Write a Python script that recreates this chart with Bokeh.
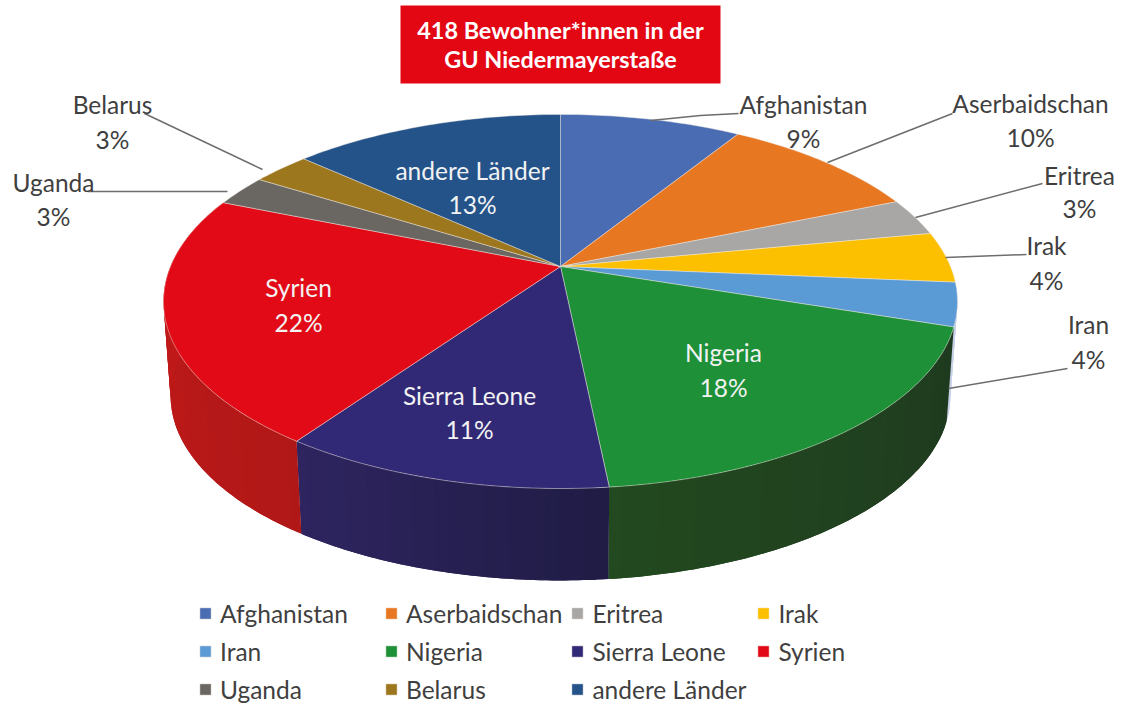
import math
from bokeh.plotting import figure
from bokeh.models import Range1d, Legend, LegendItem
from bokeh.core.properties import value
from bokeh.embed import file_html
from bokeh.resources import INLINE

# ---- data ----
countries = ["Afghanistan", "Aserbaidschan", "Eritrea", "Irak", "Iran", "Nigeria",
             "Sierra Leone", "Syrien", "Uganda", "Belarus", "andere Länder"]
printed_pct = ["9%", "10%", "3%", "4%", "4%", "18%", "11%", "22%", "3%", "3%", "13%"]
# slice sizes as drawn in the picture (percent, read from the slice edges)
drawn_share = [8.85, 9.9, 3.25, 4.4, 3.75, 18.3, 11.35, 21.5, 2.7, 2.85, 13.3]
title_lines = ["418 Bewohner*innen in der", "GU Niedermayerstaße"]

# ---- styles ----
top_colors = ["#4a6cb3", "#e87722", "#a8a7a5", "#fcc000", "#5b9bd5", "#1d9038",
              "#312976", "#e20a16", "#6a6662", "#9c771e", "#24538a"]
wall_from = {4: "#d5dcec", 5: "#1f3a1f", 6: "#201c45", 7: "#b01817"}
wall_to = {4: "#c4cfe6", 5: "#22491f", 6: "#2e2560", 7: "#c81a1a"}
FONT = "Lato"
INK = "#3f3f3f"
FS = "24.5px"

# label layout: centre x, name y, percent y
label_pos = [(803, 103.5, 137.5), (1030, 102.5, 136.5), (1079, 174.5, 207.5), (1046, 244.5, 279.5),
             (1088, 323.5, 358.5), (723, 351.5, 386.5), (469, 394.5, 428.5), (298, 286.5, 321.5),
             (53, 181.5, 215.5), (112, 103.5, 138.5), (472, 169.5, 203.5)]
inside = {5, 6, 7, 10}
leaders = [[(738, 113), (700, 115), (650, 120)], [(952, 113), (827, 162)],
           [(1042, 183), (915, 217)], [(1026, 254), (945, 257)],
           [(1067, 368), (948, 388)], [(87, 191), (227, 191)], [(144, 113), (262, 169)]]

# ---- projection of a tilted disc ----
CX, K = 560.0, 0.187
TOP = dict(a=390.0, b=180.5, y0=266.0)
BOT = dict(a=383.0, b=178.0, y0=361.0)


def ring(theta_deg, r):
    t = math.radians(theta_deg)
    w = 1 + K * math.cos(t)
    return CX + r["a"] * math.sin(t) / w, r["y0"] - r["b"] * math.cos(t) / w


def mix(c1, c2, f):
    a = [int(c1[i:i + 2], 16) for i in (1, 3, 5)]
    b = [int(c2[i:i + 2], 16) for i in (1, 3, 5)]
    return "#%02x%02x%02x" % tuple(round(a[i] + (b[i] - a[i]) * f) for i in range(3))


p = figure(width=1114, height=706, x_range=Range1d(0, 1114), y_range=Range1d(706, 0),
           output_backend="svg", toolbar_location=None, min_border=0,
           outline_line_color=None, background_fill_color="white")
p.xaxis.visible = False
p.yaxis.visible = False
p.grid.visible = False

total = sum(drawn_share)
edges = [0.0]
for s in drawn_share:
    edges.append(edges[-1] + s / total * 360)

# side wall, strip by strip, each strip overlapping the next so no seams show
for i in sorted(wall_from):
    a0, a1 = edges[i], edges[i + 1]
    n = max(4, int((a1 - a0) / 1.5))
    for j in range(n):
        t0 = a0 + (a1 - a0) * j / n
        t1 = a0 + (a1 - a0) * min(j + 2, n) / n
        steps = [t0 + (t1 - t0) * s / 4 for s in range(5)]
        upper = [ring(t, TOP) for t in steps]
        lower = [ring(t, BOT) for t in reversed(steps)]
        q = upper + lower
        c = mix(wall_from[i], wall_to[i], (j + 0.5) / n)
        p.patch([v[0] for v in q], [v[1] for v in q], fill_color=c, line_color=None)

# top faces
wedge_renderers = []
for i, c in enumerate(top_colors):
    a0, a1 = edges[i], edges[i + 1]
    n = max(8, int(a1 - a0))
    pts = [ring(a0 + (a1 - a0) * j / n, TOP) for j in range(n + 1)]
    xs = [CX] + [v[0] for v in pts]
    ys = [TOP["y0"]] + [v[1] for v in pts]
    wedge_renderers.append(p.patch(xs, ys, fill_color=c, line_color="#f3ece6", line_alpha=0.55, line_width=0.8))

# leader lines
for seg in leaders:
    p.line([v[0] for v in seg], [v[1] for v in seg], line_color="#6d6d6d", line_width=1.5)

# title box
p.quad(left=[400], right=[720], top=[5], bottom=[83], fill_color="#e30613", line_color=None)
p.text(x=[560, 560], y=[29, 58], text=title_lines, text_color="white", text_align="center",
       text_baseline="middle", text_font=value(FONT), text_font_size="23.4px", text_font_style="bold")

# slice labels
for i, name in enumerate(countries):
    cx, y1, y2 = label_pos[i]
    col = "#f2f2f2" if i in inside else INK
    p.text(x=[cx, cx], y=[y1, y2], text=[name, printed_pct[i]], text_color=col,
           text_align="center", text_baseline="middle", text_font=value(FONT), text_font_size=FS)

# legend
items = [LegendItem(label=n, renderers=[r]) for n, r in zip(countries, wedge_renderers)]
legend = Legend(items=items, location=(198, 2), orientation="horizontal", ncols=4,
                glyph_width=14, glyph_height=14, label_standoff=8, label_width=156,
                label_height=30, spacing=8, padding=0, margin=0,
                background_fill_alpha=0, border_line_alpha=0,
                label_text_font=FONT, label_text_font_size=FS, label_text_color=INK)
p.add_layout(legend, "center")

open("out.html", "w").write(file_html(p, INLINE))
